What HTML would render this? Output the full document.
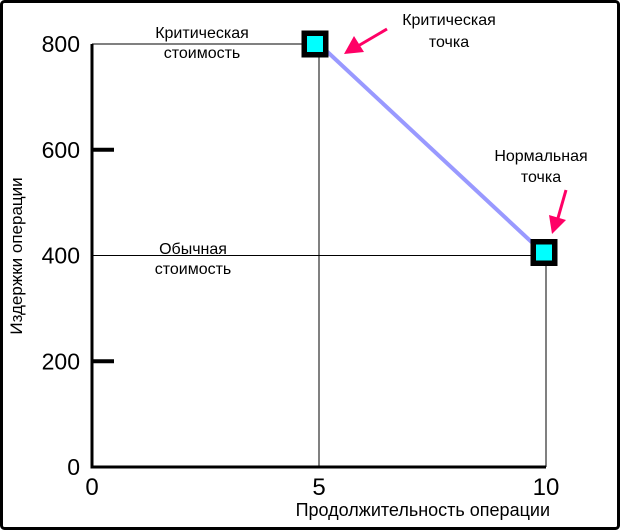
<!DOCTYPE html>
<html><head><meta charset="utf-8"><style>
html,body{margin:0;padding:0;background:#fff}
svg{display:block}
text{font-family:"Liberation Sans",Arial,sans-serif;fill:#000}
</style></head><body>
<svg width="620" height="530" viewBox="0 0 620 530">
<rect x="1.5" y="1.5" width="617" height="527" rx="3" fill="#fff" stroke="#000" stroke-width="3"/>
<g id="grid"></g>
<g id="axes"></g>
<g id="marks"></g>
<text x="0" y="0" transform="translate(22,256) rotate(-90)" text-anchor="middle" font-size="17">Издержки операции</text>
<text x="550" y="516" text-anchor="end" font-size="18">Продолжительность операции</text>
<text x="202" y="38" text-anchor="middle" font-size="16">Критическая</text>
<text x="202" y="58" text-anchor="middle" font-size="16">стоимость</text>
<text x="193" y="254" text-anchor="middle" font-size="16">Обычная</text>
<text x="193" y="274" text-anchor="middle" font-size="16">стоимость</text>
<text x="449" y="25" text-anchor="middle" font-size="16">Критическая</text>
<text x="449" y="47" text-anchor="middle" font-size="16">точка</text>
<text x="541" y="161" text-anchor="middle" font-size="16">Нормальная</text>
<text x="541" y="182" text-anchor="middle" font-size="16">точка</text>
<g fill="#ff0066" stroke="#ff0066">
<line x1="387" y1="29" x2="358" y2="46" stroke-width="3"/>
<polygon points="344,54 354,36 364,52" stroke="none"/>
</g>
<g fill="#ff0066" stroke="#ff0066">
<line x1="566" y1="190" x2="558" y2="218" stroke-width="3"/>
<polygon points="552,234 549,215 566,220" stroke="none"/>
</g>
</svg>
<script>
const xValues = [5, 10];
const yValues = [800, 400];
const xTicks = [0, 5, 10];
const yTicks = [0, 200, 400, 600, 800];
const NS = "http://www.w3.org/2000/svg";
const X0 = 92, X1 = 546, Y0 = 467, Y1 = 44;
function sx(v){ return X0 + (v/10)*(X1-X0); }
function sy(v){ return Y0 - (v/800)*(Y0-Y1); }
function mk(tag, attrs, parent){
  const e = document.createElementNS(NS, tag);
  for (const k in attrs) e.setAttribute(k, attrs[k]);
  parent.appendChild(e);
  return e;
}
const grid = document.getElementById('grid');
const axes = document.getElementById('axes');
const marks = document.getElementById('marks');
for (let i = 0; i < xValues.length; i++) {
  const h = mk('line', {x1: X0, y1: sy(yValues[i]), x2: sx(xValues[i]), y2: sy(yValues[i]), stroke:'#000', 'stroke-width':1}, grid);
  
  
  const v = mk('line', {x1: sx(xValues[i]), y1: sy(yValues[i]), x2: sx(xValues[i]), y2: Y0, stroke:'#000', 'stroke-width':1}, grid);
  
  
}
const ya = mk('line', {x1: X0, y1: Y1, x2: X0, y2: Y0+1.5, stroke:'#000', 'stroke-width':3}, axes);


const xa = mk('line', {x1: X0-1.5, y1: Y0, x2: X1, y2: Y0, stroke:'#000', 'stroke-width':3}, axes);


yTicks.forEach(t => {
  const tx = mk('text', {x: 80, y: sy(t)+8, 'text-anchor':'end', 'font-size':23}, axes);
  tx.textContent = t;
  
  
  if (t === 200 || t === 600) {
    const tk = mk('rect', {x: X0, y: sy(t)-2, width: 22, height: 4, fill:'#000'}, axes);
    
    
  }
});
xTicks.forEach(t => {
  const tx = mk('text', {x: sx(t), y: Y0+28, 'text-anchor':'middle', 'font-size':24}, axes);
  tx.textContent = t;
  
  
});
const ln = mk('line', {x1: sx(xValues[0]), y1: sy(yValues[0]), x2: sx(xValues[1]), y2: sy(yValues[1]), stroke:'#9999ff', 'stroke-width':4}, marks);


const names = ['critical-point-marker', 'normal-point-marker'];
for (let i = 0; i < xValues.length; i++) {
  const cx = sx(xValues[i]) - (i === 0 ? 4 : 2), cy = sy(yValues[i]) - (i === 1 ? 3 : 0);
  const g = mk('g', {}, marks);
  
  
  mk('rect', {x: cx-13.5, y: cy-13.5, width: 27, height: 27, fill:'#000'}, g);
  mk('rect', {x: cx-8, y: cy-8, width: 16, height: 16, fill:'#00ffff'}, g);
}
</script>
</body></html>
